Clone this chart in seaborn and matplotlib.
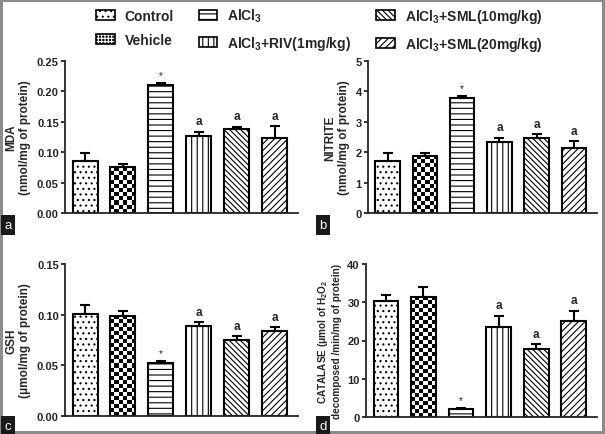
import numpy as np
import matplotlib
matplotlib.use('Agg')
import matplotlib.pyplot as plt
import seaborn as sns
from matplotlib.patches import Patch
from matplotlib.legend_handler import HandlerTuple

# groups and legend labels
cats = ['Control', 'Vehicle', 'AlCl3', 'AlCl3+RIV', 'AlCl3+SML10', 'AlCl3+SML20']
legend_labels = ['Control', 'Vehicle', 'AlCl$_3$', 'AlCl$_3$+RIV(1mg/kg)',
                 'AlCl$_3$+SML(10mg/kg)', 'AlCl$_3$+SML(20mg/kg)']
hatches = ['...', None, '---', '|||', '\\\\\\\\\\\\', '/////']
marks = ['', '', '*', 'a', 'a', 'a']

# values (mean, upper error)
mda = [0.085, 0.075, 0.210, 0.126, 0.138, 0.124]
mda_err = [0.013, 0.006, 0.004, 0.008, 0.004, 0.019]
nitrite = [1.70, 1.88, 3.77, 2.32, 2.47, 2.15]
nitrite_err = [0.26, 0.10, 0.09, 0.16, 0.13, 0.22]
gsh = [0.101, 0.099, 0.052, 0.089, 0.075, 0.084]
gsh_err = [0.009, 0.005, 0.002, 0.004, 0.004, 0.004]
catalase = [30.2, 31.4, 2.0, 23.4, 17.7, 25.0]
catalase_err = [1.8, 2.6, 0.4, 3.1, 1.4, 2.8]

sns.set_style('ticks')
plt.rcParams['font.family'] = ['Liberation Sans', 'DejaVu Sans']
plt.rcParams['font.weight'] = 'bold'
plt.rcParams['axes.labelweight'] = 'bold'
plt.rcParams['mathtext.fontset'] = 'custom'
plt.rcParams['mathtext.rm'] = 'Liberation Sans:bold'
plt.rcParams['mathtext.it'] = 'Liberation Sans:bold'
plt.rcParams['mathtext.bf'] = 'Liberation Sans:bold'
plt.rcParams['hatch.linewidth'] = 0.8
plt.rcParams['hatch.color'] = 'black'

fig = plt.figure(figsize=(6.05, 4.35), dpi=100)
fig.patch.set_edgecolor('#8c8c8c')
fig.patch.set_linewidth(3)

W, H = 605, 435


def checker(ax, bar, size=4):
    x0, y0 = bar.get_x(), bar.get_y()
    w, h = bar.get_width(), bar.get_height()
    p0 = ax.transData.transform((x0, y0))
    p1 = ax.transData.transform((x0 + w, y0 + h))
    nx = max(1, int(round((p1[0] - p0[0]) / size)))
    ny = max(1, int(round((p1[1] - p0[1]) / size)))
    board = np.indices((ny, nx)).sum(axis=0) % 2
    im = ax.imshow(board, cmap='gray_r', extent=(x0, x0 + w, y0, y0 + h),
                   aspect='auto', interpolation='nearest',
                   zorder=bar.get_zorder() - 0.01)
    im.set_clip_path(bar)
    bar.set_facecolor('none')


def panel(rect, vals, errs, ylab, ticks, fmt, labsize):
    ax = fig.add_axes([rect[0] / W, 1 - rect[3] / H, (rect[2] - rect[0]) / W, (rect[3] - rect[1]) / H])
    sns.barplot(x=cats, y=vals, order=cats, color='white', edgecolor='black',
                linewidth=1.5, width=0.66, errorbar=None, ax=ax)
    for p, h in zip(ax.patches, hatches):
        if h:
            p.set_hatch(h)
    ax.errorbar(range(len(cats)), vals, yerr=[np.zeros(len(vals)), errs], fmt='none',
                ecolor='black', elinewidth=1.5, capsize=3.5, capthick=1.5)
    for i, (v, e, m) in enumerate(zip(vals, errs, marks)):
        if m == '*':
            ax.annotate(m, (i, v + e), xytext=(0, 2), textcoords='offset points',
                        ha='center', va='bottom', fontsize=7, fontweight='normal')
        elif m:
            ax.annotate(m, (i, v + e), xytext=(0, 3), textcoords='offset points',
                        ha='center', va='bottom', fontsize=8.5)
    ax.set_xlim(-0.53, 5.62)
    ax.set_ylim(ticks[0], ticks[-1])
    checker(ax, ax.patches[1])
    ax.set_xlim(-0.53, 5.62)
    ax.set_ylim(ticks[0], ticks[-1])
    ax.set_yticks(ticks)
    ax.set_yticklabels([fmt % t for t in ticks])
    ax.set_xticks([])
    ax.set_xlabel('')
    ax.set_ylabel(ylab, fontsize=labsize, labelpad=4)
    ax.tick_params(axis='y', length=3, width=1.3, labelsize=8, pad=1.5)
    for s in ['top', 'right']:
        ax.spines[s].set_visible(False)
    for s in ['left', 'bottom']:
        ax.spines[s].set_linewidth(1.3)
    return ax


panel((65, 62, 298, 214), mda, mda_err, 'MDA\n(nmol/mg of protein)',
      [0, 0.05, 0.10, 0.15, 0.20, 0.25], '%.2f', 8.5)
panel((368, 62, 597, 214), nitrite, nitrite_err, 'NITRITE\n(nmol/mg of protein)',
      [0, 1, 2, 3, 4, 5], '%d', 8.5)
panel((65, 265, 298, 417), gsh, gsh_err, 'GSH\n(μmol/mg of protein)',
      [0, 0.05, 0.10, 0.15], '%.2f', 8.5)
panel((366, 265, 597, 418), catalase, catalase_err,
      'CATALASE (μmol of H$_2$O$_2$\ndecomposed /min/mg of protein)',
      [0, 10, 20, 30, 40], '%d', 7.2)

# panel letters
for (px, py), letter in zip([(8, 226), (323, 226), (8, 427), (323, 427)], 'abcd'):
    fig.text(px / W, 1 - py / H, letter, color='white', fontsize=9.5, fontweight='normal',
             ha='center', va='center',
             bbox=dict(facecolor='#1a1a1a', edgecolor='none', boxstyle='square,pad=0.28'))

# legend
handles = []
for i, h in enumerate(hatches):
    if h is None:
        handles.append((Patch(facecolor='black', edgecolor='white', hatch='+++++', linewidth=0),
                        Patch(facecolor='none', edgecolor='black', linewidth=1.2)))
    else:
        handles.append(Patch(facecolor='white', edgecolor='black', hatch=h, linewidth=1.2))
fig.legend(handles, legend_labels, loc='upper left', bbox_to_anchor=(89 / W, 1 - 1 / H),
           ncol=3, frameon=False, fontsize=10, handlelength=1.35, handleheight=0.75,
           handletextpad=0.7, columnspacing=1.8, labelspacing=0.7, borderpad=0,
           handler_map={tuple: HandlerTuple(ndivide=1, pad=0)})

fig.savefig('out.png', dpi=100, facecolor='white', edgecolor=fig.patch.get_edgecolor())
